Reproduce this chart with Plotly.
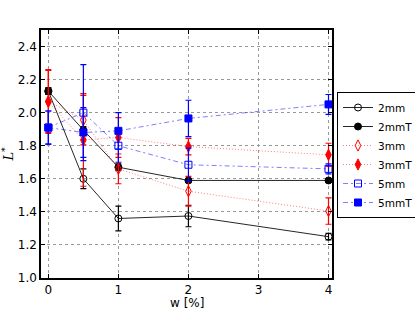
import plotly.graph_objects as go

w = [0, 0.5, 1, 2, 4]

names = ["2mm", "2mmT", "3mm", "3mmT", "5mm", "5mmT"]
L_2mm = [2.13, 1.60, 1.36, 1.375, 1.25]
L_2mmT = [2.13, 1.895, 1.67, 1.59, 1.59]
L_3mm = [2.07, 1.955, 1.66, 1.525, 1.405]
L_3mmT = [2.065, 1.835, 1.85, 1.795, 1.745]
L_5mm = [1.91, 2.00, 1.80, 1.685, 1.66]
L_5mmT = [1.91, 1.88, 1.89, 1.965, 2.05]

E_2mm = [0.02, 0.06, 0.075, 0.065, 0.02]
E_2mmT = [0.02, 0.02, 0.02, 0.01, 0.01]
E_3mm = [0.19, 0.15, 0.09, 0.09, 0.08]
E_3mmT = [0.19, 0.28, 0.12, 0.05, 0.07]
E_5mm = [0.10, 0.29, 0.10, 0.10, 0.03]
E_5mmT = [0.10, 0.15, 0.11, 0.11, 0.06]

x_ticks = [0, 1, 2, 3, 4]
y_ticks = [1.0, 1.2, 1.4, 1.6, 1.8, 2.0, 2.2, 2.4]

styles = [
    dict(y=L_2mm, e=E_2mm, color="black", line="rgba(0,0,0,0.85)", dash="solid",
         symbol="circle-open", size=7),
    dict(y=L_2mmT, e=E_2mmT, color="black", line="rgba(0,0,0,0.85)", dash="solid",
         symbol="circle", size=7),
    dict(y=L_3mm, e=E_3mm, color="red", line="rgba(255,0,0,0.5)", dash="1px,2px",
         symbol="diamond-tall-open", size=8),
    dict(y=L_3mmT, e=E_3mmT, color="red", line="rgba(255,0,0,0.5)", dash="1px,2px",
         symbol="diamond-tall", size=8),
    dict(y=L_5mm, e=E_5mm, color="blue", line="rgba(0,0,255,0.5)", dash="5px,3px,2px,3px",
         symbol="square-open", size=7),
    dict(y=L_5mmT, e=E_5mmT, color="blue", line="rgba(0,0,255,0.5)", dash="5px,3px,2px,3px",
         symbol="square", size=7),
]

fig = go.Figure()
for name, s in zip(names, styles):
    fig.add_trace(go.Scatter(
        x=w, y=s["y"], name=name, mode="lines+markers",
        line=dict(color=s["line"], width=1, dash=s["dash"]),
        marker=dict(symbol=s["symbol"], size=s["size"], color=s["color"],
                    line=dict(color=s["color"], width=1)),
        error_y=dict(type="data", array=s["e"], visible=True, color=s["color"],
                     thickness=1.2, width=3),
    ))

axis_common = dict(
    showline=True, linecolor="black", linewidth=1.5, mirror="allticks",
    ticks="inside", ticklen=4, tickcolor="black",
    showgrid=True, gridcolor="#999999", griddash="dot", gridwidth=1,
    zeroline=False, automargin=False,
    tickfont=dict(family="DejaVu Sans", size=12, color="black"),
)

fig.update_xaxes(range=[-0.105, 4.05], tickvals=x_ticks,
                 ticktext=[str(t) for t in x_ticks],
                 **axis_common)
fig.update_yaxes(range=[1.0, 2.5], tickvals=y_ticks,
                 ticktext=[f"{t:.1f}" for t in y_ticks],
                 title=dict(text="<i>L</i><sup>*</sup>", font=dict(family="DejaVu Serif", size=13, color="black"),
                            standoff=4),
                 **axis_common)

fig.add_annotation(text="w [%]", xref="paper", yref="paper", x=0.5, y=-0.135,
                   xanchor="center", yanchor="bottom", showarrow=False, borderpad=0,
                   font=dict(family="DejaVu Sans", size=12, color="black"))

fig.update_layout(
    width=415, height=312,
    margin=dict(l=41, r=83, t=30, b=34, autoexpand=False),
    paper_bgcolor="white", plot_bgcolor="white",
    font=dict(family="DejaVu Sans", size=12, color="black"),
    legend=dict(xref="container", yref="container", x=337 / 415, y=(312 - 155) / 312,
                xanchor="left", yanchor="middle",
                bordercolor="black", borderwidth=1, bgcolor="white",
                font=dict(family="DejaVu Sans", size=10.5, color="black"),
                itemwidth=30, tracegroupgap=0),
    showlegend=True,
)

fig.write_html("out.html", config={"displayModeBar": False},
               post_script="document.body.style.margin='0px';")
